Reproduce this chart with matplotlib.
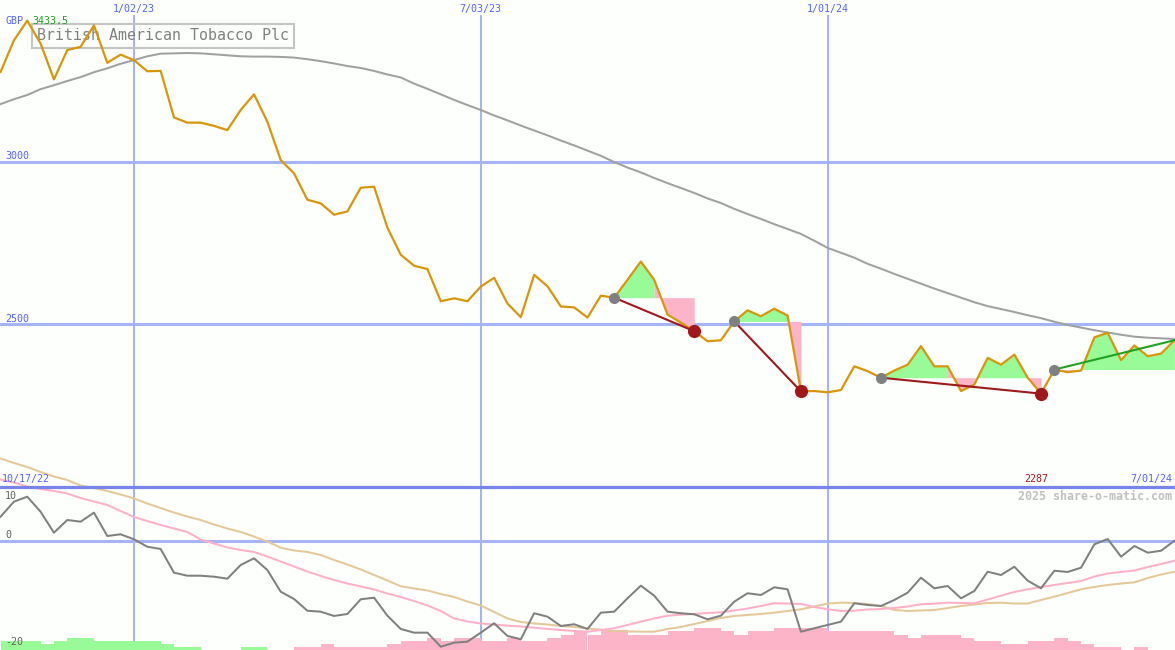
import matplotlib
matplotlib.use("Agg")
import matplotlib.pyplot as plt
import matplotlib.dates as mdates
import numpy as np
import pandas as pd

# weekly closes (GBp) and indicators
weeks = pd.date_range("2022-10-24", "2024-07-01", freq="W-MON")

price = [3276, 3373, 3433.5, 3363, 3253, 3343, 3353, 3419, 3304, 3329,
         3312, 3278, 3279, 3136, 3120, 3120, 3110, 3097, 3159, 3207,
         3123, 3005, 2964, 2883, 2872, 2837, 2847, 2920, 2923, 2797,
         2714, 2680, 2670, 2571, 2580, 2571, 2616, 2643, 2564, 2522,
         2652, 2617, 2555, 2552, 2521, 2588, 2582, 2637, 2693, 2637,
         2530, 2505, 2479, 2448, 2451, 2509, 2543, 2525, 2548, 2527,
         2294, 2295, 2291, 2298, 2371, 2356, 2336, 2358, 2376, 2433,
         2371, 2371, 2295, 2315, 2397, 2376, 2407, 2336, 2287, 2361,
         2353, 2358, 2460, 2474, 2390, 2435, 2402, 2410, 2451]

ma_long = [3177, 3192, 3205, 3223, 3235, 3248, 3260, 3275, 3287, 3301,
           3312, 3324, 3332, 3333, 3334, 3333, 3330, 3327, 3324, 3323,
           3323, 3322, 3320, 3315, 3309, 3302, 3294, 3288, 3279, 3268,
           3259, 3240, 3224, 3207, 3190, 3174, 3159, 3142, 3127, 3111,
           3096, 3081, 3065, 3050, 3034, 3018, 2999, 2982, 2967, 2950,
           2934, 2919, 2904, 2887, 2873, 2855, 2839, 2824, 2808, 2793,
           2778, 2757, 2735, 2720, 2705, 2686, 2671, 2655, 2640, 2625,
           2610, 2596, 2582, 2568, 2556, 2547, 2538, 2528, 2519, 2508,
           2498, 2490, 2482, 2475, 2468, 2462, 2459, 2457, 2455]

osc = [4.43, 7.20, 8.12, 5.35, 1.48, 3.82, 3.51, 5.17, 0.87, 1.18,
       0.26, -1.11, -1.53, -5.90, -6.46, -6.46, -6.64, -7.01, -4.48, -3.25,
       -5.41, -9.41, -10.76, -12.92, -13.10, -13.89, -13.52, -10.81, -10.52, -13.84,
       -16.29, -16.97, -16.97, -19.56, -18.82, -18.63, -16.97, -15.24, -17.58, -18.19,
       -13.39, -14.02, -15.74, -15.42, -16.29, -13.28, -13.10, -10.63, -8.30, -10.15,
       -13.10, -13.39, -13.58, -14.50, -13.84, -11.25, -9.70, -10.02, -8.60, -8.97,
       -16.79, -16.16, -15.55, -14.94, -11.55, -11.86, -12.05, -10.94, -9.59, -6.83,
       -8.78, -8.36, -10.63, -9.28, -5.72, -6.33, -4.80, -7.38, -8.78, -5.54,
       -5.77, -4.98, -0.66, 0.31, -2.95, -0.98, -2.21, -1.85, 0.0]

osc_fast = [11.29, 10.74, 10.0, 9.54, 9.17, 8.71, 7.88, 7.23, 6.59, 5.48,
            4.37, 3.63, 2.90, 2.25, 1.61, 0.22, -0.52, -1.25, -1.72, -2.08,
            -2.92, -3.84, -4.76, -5.68, -6.51, -7.25, -7.90, -8.45, -9.00, -9.74,
            -10.39, -11.13, -11.96, -12.97, -14.35, -14.91, -15.28, -15.46, -15.68, -15.83,
            -16.05, -16.29, -16.48, -16.66, -16.79, -16.48, -16.16, -15.55, -14.94, -14.35,
            -13.84, -13.65, -13.52, -13.34, -13.21, -12.88, -12.51, -12.05, -11.55, -11.59,
            -11.68, -12.23, -12.66, -12.97, -12.92, -12.69, -12.60, -12.42, -12.14, -11.73,
            -11.62, -11.44, -11.49, -11.55, -10.85, -10.15, -9.46, -8.97, -8.54, -8.17,
            -7.80, -7.44, -6.61, -6.05, -5.77, -5.50, -4.85, -4.30, -3.69]

osc_slow = [15.17, 14.34, 13.60, 12.68, 11.85, 11.20, 10.18, 9.72, 9.17, 8.52,
            7.82, 6.86, 6.03, 5.20, 4.46, 3.82, 2.99, 2.25, 1.61, 0.77,
            -0.15, -1.29, -1.81, -2.08, -2.64, -3.56, -4.39, -5.31, -6.33, -7.34,
            -8.41, -8.82, -9.19, -9.83, -10.39, -11.22, -11.96, -13.15, -14.35, -15.00,
            -15.28, -15.46, -15.74, -15.92, -16.20, -16.42, -16.66, -16.75, -16.79, -16.79,
            -16.29, -15.92, -15.37, -14.82, -14.26, -13.89, -13.71, -13.52, -13.28, -12.97,
            -12.66, -12.14, -11.59, -11.44, -11.49, -11.68, -12.05, -12.79, -12.97, -12.88,
            -12.79, -12.42, -12.05, -11.77, -11.49, -11.44, -11.59, -11.59, -10.94, -10.33,
            -9.65, -8.97, -8.54, -8.17, -7.90, -7.68, -6.88, -6.24, -5.72]

# histogram strip, + green / - pink
hist = [3, 3, 3, 2, 3, 4, 4, 3, 3, 3,
        3, 3, 2, 1, 1, 0, 0, 0, 1, 1,
        0, 0, -1, -1, -2, -1, -1, -1, -1, -2,
        -3, -3, -4, -3, -4, -4, -3, -3, -4, -3,
        -3, -4, -5, -6, -5, -6.7, -6.7, -5, -5, -5,
        -6.3, -6.3, -7.2, -7.2, -6.3, -5, -6.3, -6.3, -7.2, -7.2,
        -7.4, -7.4, -6.3, -6.3, -6.3, -6.3, -6.3, -5, -4, -5,
        -5, -5, -4, -3, -3, -2, -2, -3, -3, -4,
        -3, -2, -1, -1, 0, -1, 0, 0, 0]

trend_start = ["2023-09-11", "2023-11-13", "2024-01-29", "2024-04-29"]
trend_end = ["2023-10-23", "2023-12-18", "2024-04-22", "2024-07-01"]
trend_dir = ["down", "down", "down", "up"]

grid_dates = ["2023-01-02", "2023-07-03", "2024-01-01"]
grid_labels = ["1/02/23", "7/03/23", "1/01/24"]
price_grid = [3000, 2500]
first_label = "10/17/22"
last_label = "7/01/24"
osc_top_label = "10"
osc_bottom_label = "-20"
name = "British American Tobacco Plc"

BG = "#FCFFFC"
GRID = "#A4B4F4"
SEP = "#7884EC"
BLUE = "#5464F4"
ORANGE = "#D8960A"
GREEN_F = "#98FB98"
PINK_F = "#FBB4C8"
DRED = "#A0181C"
GREEN_L = "#22A022"
MONO = "DejaVu Sans Mono"

W, H = 1175, 650
fig = plt.figure(figsize=(W / 100, H / 100), dpi=100, facecolor=BG)
ax = fig.add_axes([0, 163 / H, 1, 487 / H])
low = fig.add_axes([0, 0, 1, 163 / H])
hax = low.twinx()
ax.set_zorder(0)
hax.set_zorder(1)
low.set_zorder(2)

x0 = mdates.date2num(weeks[0]) - 0.3
x1 = mdates.date2num(weeks[-1]) + 0.3
for a in (ax, low, hax):
    a.set_xlim(x0, x1)
    a.axis("off")
ax.set_ylim(2000, 3497)
low.set_ylim(-20.17, 9.91)
hax.set_ylim(0, 163 / 3)

# grid
for d in grid_dates:
    ax.axvline(pd.Timestamp(d), ymax=(487 - 16) / 487, color=GRID, lw=1.45, zorder=0.5)
    hax.axvline(pd.Timestamp(d), color=GRID, lw=1.45, zorder=0.5)
for v in price_grid:
    ax.axhline(v, color=GRID, lw=2.2, zorder=0.5)
low.axhline(0, color=GRID, lw=2.2, zorder=0.5)

# main panel
ax.plot(weeks, ma_long, color="#A0A0A0", lw=1.45, zorder=2)

price_arr = np.array(price, dtype=float)
for s, e, d in zip(trend_start, trend_end, trend_dir):
    i0 = weeks.get_loc(pd.Timestamp(s))
    i1 = weeks.get_loc(pd.Timestamp(e))
    level = price_arr[i0]
    j = i0
    while j < i1:
        up = price_arr[j + 1] >= level
        k = j + 1
        while k < i1 and (price_arr[k + 1] >= level) == up:
            k += 1
        ax.fill_between(weeks[j:k + 1], level, price_arr[j:k + 1],
                        color=GREEN_F if up else PINK_F, lw=0, zorder=2.5)
        j = k

ax.plot(weeks, price, color=ORANGE, lw=1.6, zorder=3)

for s, e, d in zip(trend_start, trend_end, trend_dir):
    i0 = weeks.get_loc(pd.Timestamp(s))
    i1 = weeks.get_loc(pd.Timestamp(e))
    ax.plot([weeks[i0], weeks[i1]], [price[i0], price[i1]],
            color=DRED if d == "down" else GREEN_L, lw=1.5, zorder=4)
    ax.plot(weeks[i0], price[i0], "o", color="#808080", ms=8, mew=0, zorder=5)
    if d == "down":
        ax.plot(weeks[i1], price[i1], "o", color=DRED, ms=9.5, mew=0, zorder=5)

# labels, main panel
for d, lbl in zip(grid_dates, grid_labels):
    ax.annotate(lbl, xy=(pd.Timestamp(d), 1), xycoords=("data", "axes fraction"),
                xytext=(0, -9), textcoords="offset pixels", ha="center", va="center",
                fontsize=7.2, color=BLUE, family=MONO)
for v in price_grid:
    ax.annotate(str(v), xy=(0, v), xycoords=("axes fraction", "data"),
                xytext=(5, 5.5), textcoords="offset pixels", ha="left", va="center",
                fontsize=7.2, color=BLUE, family=MONO)
ax.annotate("GBP", xy=(0, 1), xycoords="axes fraction", xytext=(5, -21),
            textcoords="offset pixels", ha="left", va="center",
            fontsize=7.2, color=BLUE, family=MONO)
ax.annotate(f"{max(price):g}", xy=(0, 1), xycoords="axes fraction", xytext=(32, -21),
            textcoords="offset pixels", ha="left", va="center",
            fontsize=7.2, color="#22A022", family=MONO)
ax.annotate(name, xy=(0, 1), xycoords="axes fraction", xytext=(37, -36),
            textcoords="offset pixels", ha="left", va="center",
            fontsize=10.8, color="#808080", family=MONO, zorder=1,
            bbox=dict(boxstyle="square,pad=0.33", fc="none", ec="#C4C4C4", lw=1.5))

# lower panel
hax.bar(weeks, np.abs(hist), width=7, align="edge",
        color=[GREEN_F if h > 0 else PINK_F for h in hist], lw=0, zorder=1)
low.plot(weeks, osc_slow, color="#E4C898", lw=1.45, zorder=2, clip_on=False)
low.plot(weeks, osc_fast, color="#FFB0C8", lw=1.45, zorder=2, clip_on=False)
low.plot(weeks, osc, color="#808080", lw=1.45, zorder=3)
low.plot([0, 1], [1, 1], transform=low.transAxes, color=SEP, lw=2.3,
         clip_on=False, zorder=6)

low.annotate(first_label, xy=(0, 1), xycoords="axes fraction", xytext=(2, 8),
             textcoords="offset pixels", ha="left", va="center",
             fontsize=7.2, color=BLUE, family=MONO, zorder=7)
imin = int(np.argmin(price_arr))
low.annotate(f"{price[imin]:g}", xy=(weeks[imin], 1), xycoords=("data", "axes fraction"),
             xytext=(-5, 8), textcoords="offset pixels", ha="center", va="center",
             fontsize=7.2, color=DRED, family=MONO, zorder=7)
low.annotate(last_label, xy=(1, 1), xycoords="axes fraction", xytext=(-3, 8),
             textcoords="offset pixels", ha="right", va="center",
             fontsize=7.2, color=BLUE, family=MONO, zorder=7)
low.annotate("2025 share-o-matic.com", xy=(1, 1), xycoords="axes fraction",
             xytext=(-3, -9), textcoords="offset pixels", ha="right", va="center",
             fontsize=8.4, color="#C0C0C0", family=MONO, weight="bold")
low.annotate(osc_top_label, xy=(0, 1), xycoords="axes fraction", xytext=(5, -9),
             textcoords="offset pixels", ha="left", va="center",
             fontsize=7.2, color="#606060", family=MONO)
low.annotate("0", xy=(0, 0), xycoords=("axes fraction", "data"), xytext=(5, 5.7),
             textcoords="offset pixels", ha="left", va="center",
             fontsize=7.2, color="#606060", family=MONO)
low.annotate(osc_bottom_label, xy=(0, 0), xycoords="axes fraction", xytext=(5, 8),
             textcoords="offset pixels", ha="left", va="center",
             fontsize=7.2, color="#606060", family=MONO, zorder=7)

fig.savefig("out.png", dpi=100, facecolor=BG)
